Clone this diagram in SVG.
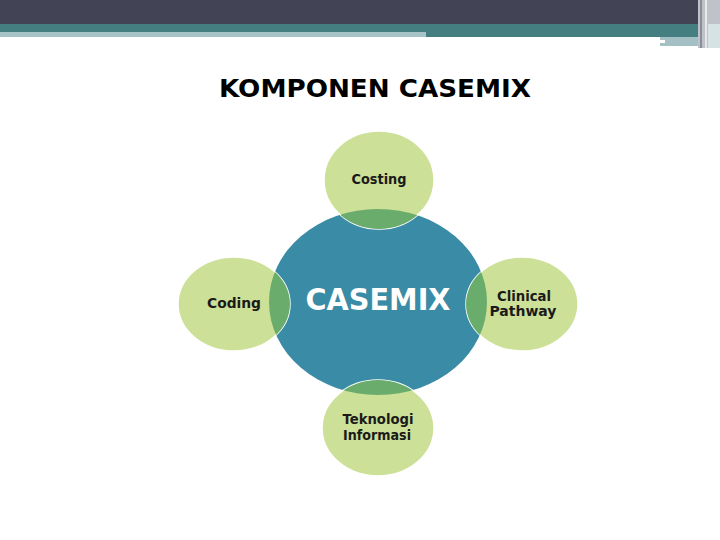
<svg xmlns="http://www.w3.org/2000/svg" width="720" height="540" viewBox="0 0 720 540">
<style>
.sat{fill:#cde097;stroke:#ffffff;stroke-width:1.5}
.ov{fill:#6aac6c}
.lbl{font-family:"DejaVu Sans","Liberation Sans",sans-serif;font-weight:bold;font-size:13.5px;fill:#1a1a1a;text-anchor:middle}
</style>
<defs>
<clipPath id="mainClip"><ellipse cx="378" cy="302" rx="109" ry="93"/></clipPath>
</defs>
<rect width="720" height="540" fill="#ffffff"/>
<g id="header">
<rect x="0" y="0" width="720" height="24" fill="#424456"/>
<rect x="0" y="24" width="700" height="13" fill="#447e81"/>
<rect x="0" y="32" width="426" height="5" fill="#a8c3c7"/>
<rect x="660" y="37" width="40" height="9" fill="#a4c0c4"/>
<rect x="659" y="40" width="6" height="3" fill="#ffffff"/>
<rect x="698" y="0" width="22" height="48" fill="#bfc3c9"/>
<rect x="700" y="0" width="2" height="48" fill="#8a8e98"/>
<rect x="705" y="0" width="2" height="48" fill="#e6e8ea"/>
<rect x="708" y="24" width="12" height="24" fill="#d5e3e4"/>
</g>
<text x="375" y="97" font-family="DejaVu Sans,'Liberation Sans',sans-serif" font-weight="900" font-size="25" fill="#000" text-anchor="middle" textLength="312" lengthAdjust="spacingAndGlyphs">KOMPONEN CASEMIX</text>
<g id="casemix">
<ellipse cx="378" cy="302" rx="109" ry="93" fill="#3a8ba5"/>
<text x="378" y="310" font-family="DejaVu Sans,'Liberation Sans',sans-serif" font-weight="bold" font-size="31" fill="#ffffff" text-anchor="middle" textLength="145" lengthAdjust="spacingAndGlyphs">CASEMIX</text>
</g>
<g id="connectors"></g>
<g id="costing">
<ellipse class="sat" cx="379" cy="180" rx="55" ry="49"/>
<ellipse class="ov" cx="379" cy="180" rx="55" ry="49" clip-path="url(#mainClip)"/>
<text class="lbl" x="379" y="184" textLength="55" lengthAdjust="spacingAndGlyphs">Costing</text>
</g>
<g id="coding">
<ellipse class="sat" cx="234" cy="304" rx="56" ry="47"/>
<ellipse class="ov" cx="234" cy="304" rx="56" ry="47" clip-path="url(#mainClip)"/>
<text class="lbl" x="234" y="308" textLength="54" lengthAdjust="spacingAndGlyphs">Coding</text>
</g>
<g id="clinical">
<ellipse class="sat" cx="522" cy="304" rx="56" ry="47"/>
<ellipse class="ov" cx="522" cy="304" rx="56" ry="47" clip-path="url(#mainClip)"/>
<text class="lbl" x="524" y="301" textLength="54" lengthAdjust="spacingAndGlyphs">Clinical</text>
<text class="lbl" x="523" y="316" textLength="67" lengthAdjust="spacingAndGlyphs">Pathway</text>
</g>
<g id="teknologi">
<ellipse class="sat" cx="378" cy="428" rx="56" ry="48"/>
<ellipse class="ov" cx="378" cy="428" rx="56" ry="48" clip-path="url(#mainClip)"/>
<text class="lbl" x="378" y="424" textLength="71" lengthAdjust="spacingAndGlyphs">Teknologi</text>
<text class="lbl" x="377" y="440" textLength="68" lengthAdjust="spacingAndGlyphs">Informasi</text>
</g>
</svg>
